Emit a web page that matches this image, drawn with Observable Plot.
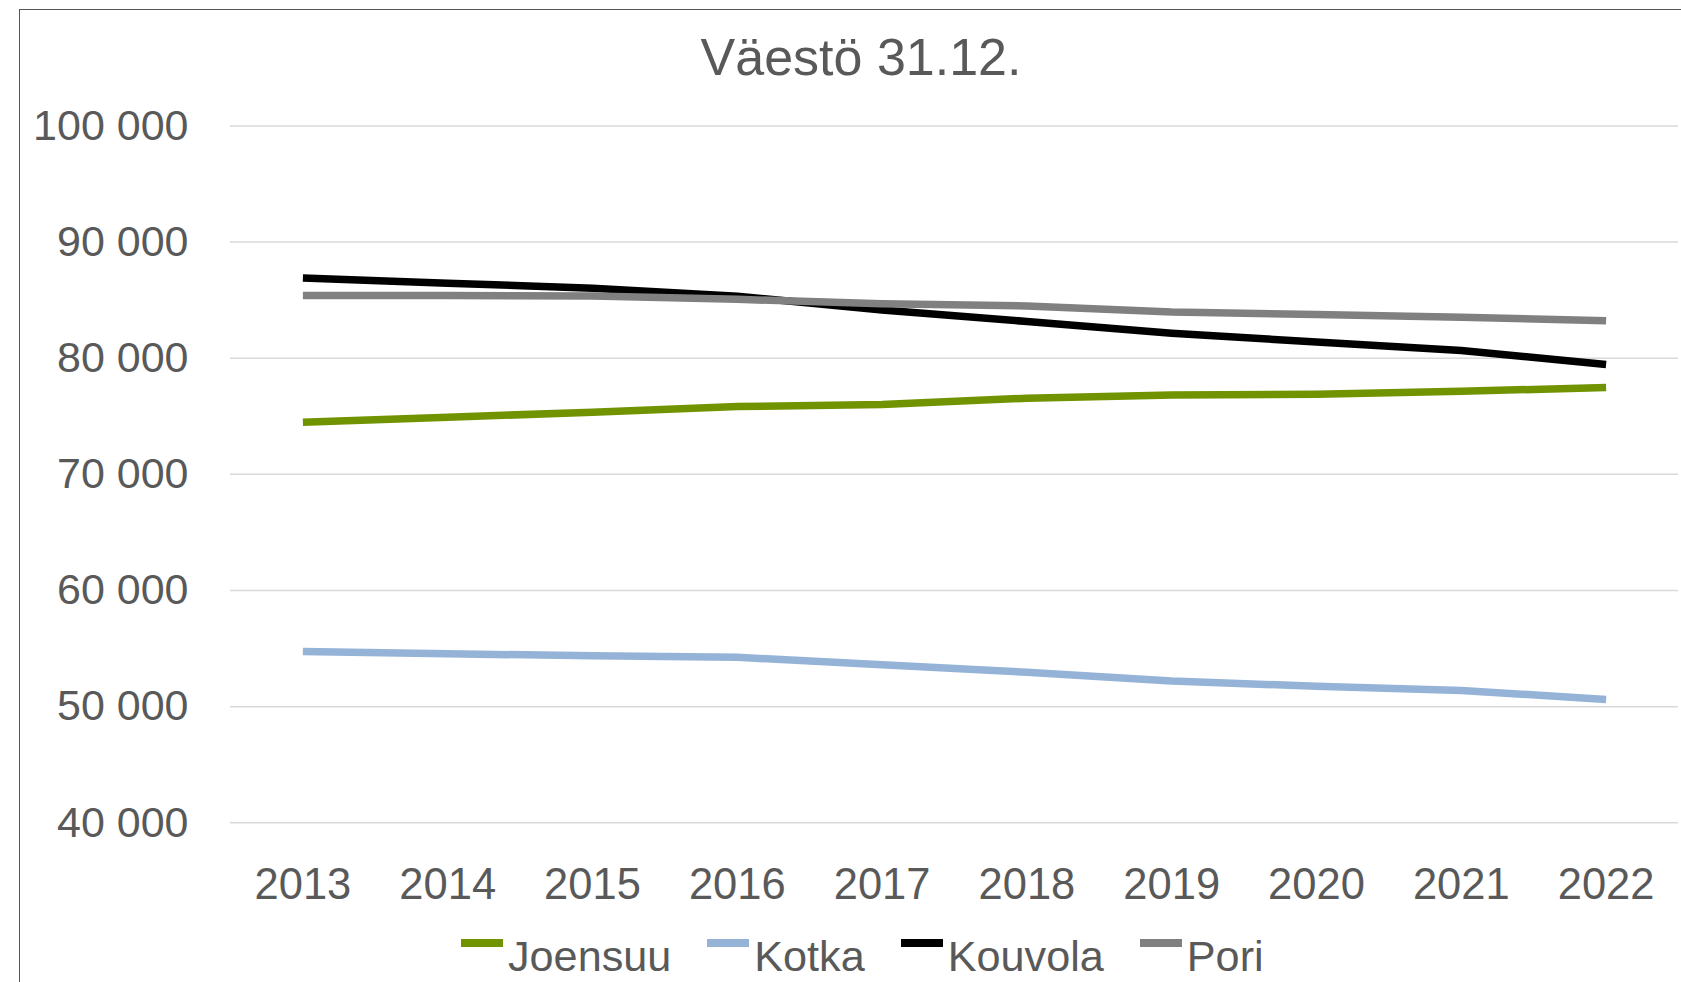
<!DOCTYPE html>
<html>
<head>
<meta charset="utf-8">
<script src="https://cdn.jsdelivr.net/npm/d3@7"></script>
<script src="https://cdn.jsdelivr.net/npm/@observablehq/plot@0.6"></script>
<style>
  html, body { margin: 0; padding: 0; background: #fff; }
  #wrap { position: relative; width: 1681px; height: 982px; overflow: hidden; font-family: "Liberation Sans", Arial, sans-serif; color: #595959; }
  #frame { position: absolute; left: 19px; top: 9px; width: 1700px; height: 1000px; border-left: 1.5px solid #555; border-top: 1.5px solid #555; }
  #title { position: absolute; left: 861px; top: 31px; transform: translateX(-50%); font-size: 52px; line-height: 52px; white-space: nowrap; }
  #chart { position: absolute; left: 0; top: 0; }
  #legend { position: absolute; left: 461px; top: 935px; display: flex; font-size: 43.2px; line-height: 43.2px; white-space: nowrap; }
  .item { display: flex; align-items: flex-start; margin-right: 36px; }
  .sw { width: 42px; height: 8px; margin-top: 4px; margin-right: 5px; }
</style>
</head>
<body>
<div id="wrap">
  <div id="frame"></div>
  <div id="chart"></div>
  <div id="title">Väestö 31.12.</div>
  <div id="legend"></div>
</div>
<script>
const years = [2013, 2014, 2015, 2016, 2017, 2018, 2019, 2020, 2021, 2022];
const cities = ["Joensuu", "Kotka", "Kouvola", "Pori"];
const colors = ["#729300", "#95b3d7", "#000000", "#808080"];
const joensuu = [74490, 74920, 75350, 75840, 76010, 76560, 76840, 76900, 77160, 77470];
const kotka   = [54750, 54550, 54380, 54250, 53600, 52960, 52200, 51760, 51400, 50620];
const kouvola = [86900, 86460, 86030, 85340, 84150, 83160, 82150, 81400, 80660, 79460];
const pori    = [85400, 85400, 85350, 85070, 84680, 84500, 83980, 83760, 83530, 83220];
const yTicks = [40000, 50000, 60000, 70000, 80000, 90000, 100000];

const series = [joensuu, kotka, kouvola, pori];
const data = [];
series.forEach((vals, i) => vals.forEach((v, j) => data.push({year: years[j], value: v, city: cities[i]})));

const fmt = d => d3.format(",")(d).replace(/,/g, " ");

const chart = Plot.plot({
  width: 1681,
  height: 982,
  marginTop: 125.4,
  marginBottom: 159.7,
  marginLeft: 230,
  marginRight: 3,
  style: {fontFamily: "'Liberation Sans', Arial, sans-serif", fontSize: "43px", color: "#595959", background: "transparent", overflow: "visible"},
  x: {type: "point", domain: years, padding: 0.5, round: false},
  y: {domain: [40000, 100000]},
  color: {domain: cities, range: colors},
  marks: [
    Plot.gridY(yTicks, {stroke: "#d9d9d9", strokeOpacity: 1, strokeWidth: 1.5}),
    Plot.axisY(yTicks, {tickSize: 0, tickPadding: 42, tickFormat: fmt, fontSize: 43, label: null}),
    Plot.axisX(years, {tickSize: 0, tickPadding: 45.5, tickFormat: d => String(d), fontSize: 43.5, label: null}),
    Plot.line(data, {x: "year", y: "value", z: "city", stroke: "city", strokeWidth: 7.5, strokeLinecap: "butt", strokeLinejoin: "round"})
  ]
});
document.getElementById("chart").appendChild(chart);

const legend = document.getElementById("legend");
cities.forEach((c, i) => {
  const it = document.createElement("div");
  it.className = "item";
  const sw = document.createElement("div");
  sw.className = "sw";
  sw.style.background = colors[i];
  const tx = document.createElement("span");
  tx.textContent = c;
  it.appendChild(sw);
  it.appendChild(tx);
  legend.appendChild(it);
});
</script>
</body>
</html>
